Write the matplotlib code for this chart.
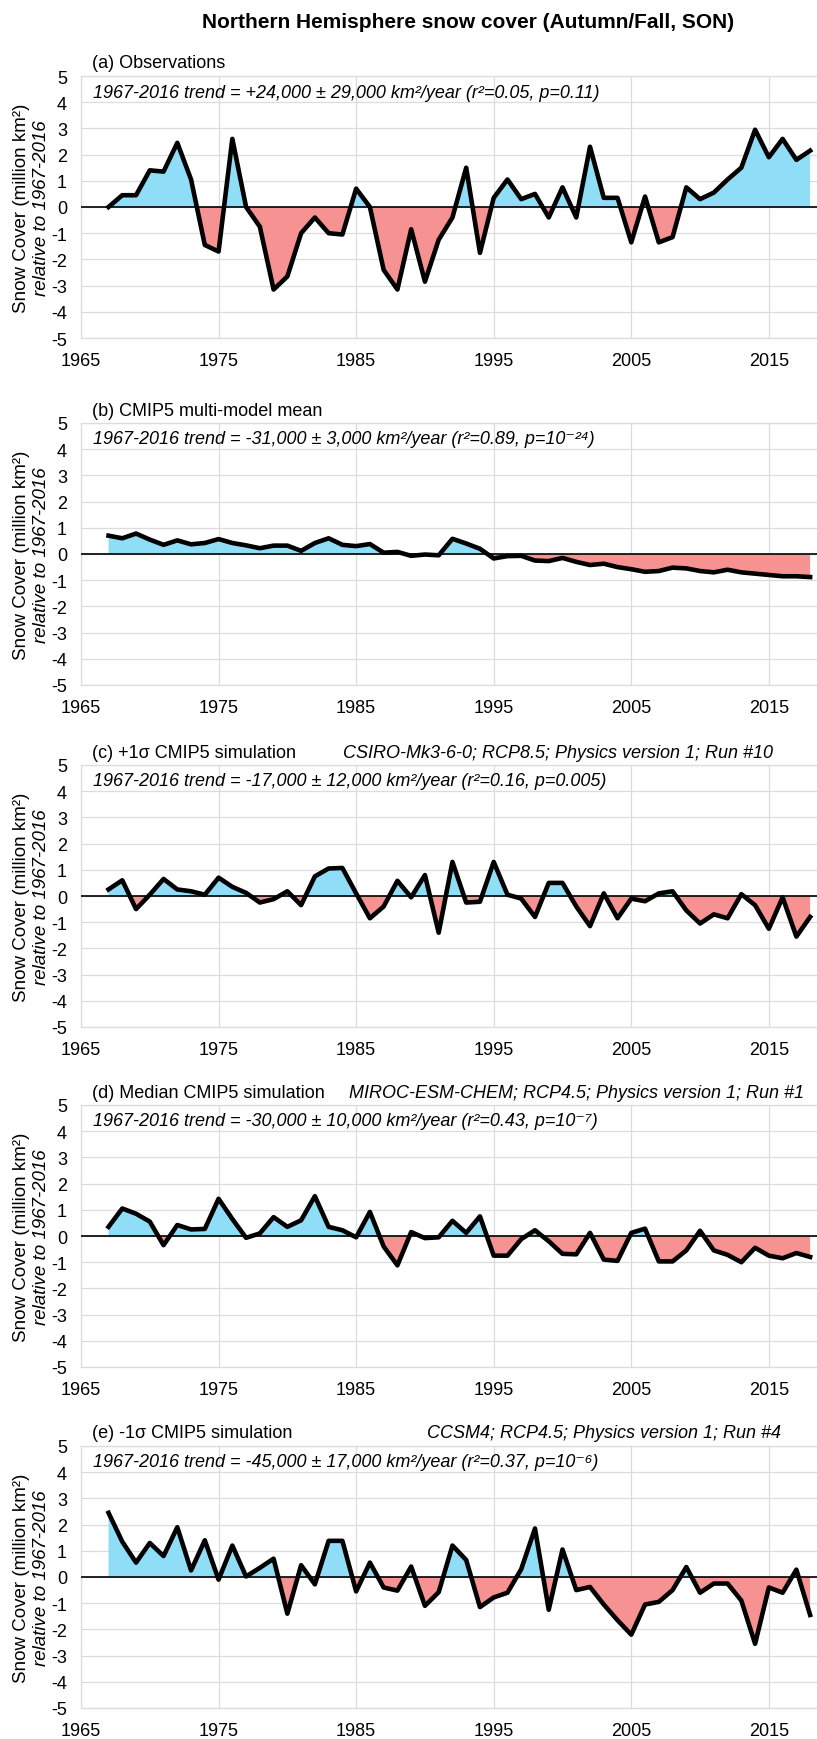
import numpy as np
import matplotlib
matplotlib.use("Agg")
import matplotlib.pyplot as plt

plt.rcParams['font.family'] = ['Liberation Sans', 'DejaVu Sans']
plt.rcParams['axes.unicode_minus'] = False

# DATA
years = np.arange(1967, 2019)

obs = [0.0, 0.45, 0.45, 1.4, 1.35, 2.45, 1.05, -1.45, -1.7, 2.6,
       0.0, -0.75, -3.15, -2.65, -1.0, -0.4, -1.0, -1.05, 0.7, 0.0,
       -2.4, -3.15, -0.85, -2.85, -1.25, -0.4, 1.5, -1.75, 0.35, 1.05,
       0.3, 0.5, -0.4, 0.75, -0.4, 2.3, 0.35, 0.35, -1.35, 0.4,
       -1.35, -1.15, 0.75, 0.3, 0.55, 1.05, 1.5, 2.95, 1.9, 2.6,
       1.8, 2.15]

mmm = [0.7, 0.6, 0.78, 0.55, 0.35, 0.52, 0.37, 0.42, 0.57, 0.42,
       0.33, 0.22, 0.32, 0.32, 0.12, 0.42, 0.6, 0.35, 0.3, 0.38,
       0.05, 0.08, -0.07, -0.02, -0.05, 0.58, 0.4, 0.2, -0.17, -0.08,
       -0.07, -0.25, -0.27, -0.15, -0.3, -0.42, -0.37, -0.5, -0.58, -0.68,
       -0.65, -0.52, -0.55, -0.65, -0.7, -0.6, -0.7, -0.75, -0.8, -0.85,
       -0.85, -0.88]

plus1 = [0.25, 0.6, -0.5, 0.05, 0.65, 0.25, 0.18, 0.05, 0.7, 0.35,
         0.12, -0.25, -0.12, 0.18, -0.35, 0.75, 1.05, 1.07, 0.1, -0.85,
         -0.4, 0.58, -0.05, 0.8, -1.4, 1.3, -0.25, -0.22, 1.3, 0.05,
         -0.1, -0.8, 0.5, 0.5, -0.4, -1.15, 0.1, -0.85, -0.1, -0.2,
         0.1, 0.18, -0.55, -1.05, -0.7, -0.85, 0.07, -0.35, -1.25, -0.05,
         -1.55, -0.8]

median = [0.35, 1.05, 0.85, 0.55, -0.35, 0.42, 0.25, 0.27, 1.42, 0.65,
          -0.07, 0.1, 0.72, 0.35, 0.6, 1.52, 0.35, 0.22, -0.05, 0.92,
          -0.4, -1.12, 0.15, -0.08, -0.05, 0.58, 0.12, 0.75, -0.75, -0.75,
          -0.12, 0.22, -0.2, -0.68, -0.7, 0.12, -0.9, -0.95, 0.12, 0.28,
          -0.97, -0.97, -0.55, 0.2, -0.55, -0.72, -1.0, -0.45, -0.75, -0.85,
          -0.65, -0.8]

minus1 = [2.45, 1.35, 0.55, 1.3, 0.8, 1.9, 0.25, 1.4, -0.1, 1.2,
          0.02, 0.35, 0.7, -1.4, 0.45, -0.28, 1.38, 1.38, -0.55, 0.55,
          -0.4, -0.52, 0.4, -1.1, -0.58, 1.2, 0.65, -1.15, -0.78, -0.6,
          0.3, 1.85, -1.25, 1.05, -0.5, -0.38, -1.05, -1.65, -2.2, -1.05,
          -0.95, -0.5, 0.38, -0.6, -0.25, -0.25, -0.9, -2.55, -0.4, -0.6,
          0.28, -1.45]

series = [obs, mmm, plus1, median, minus1]
titles = ["(a) Observations",
          "(b) CMIP5 multi-model mean",
          "(c) +1σ CMIP5 simulation",
          "(d) Median CMIP5 simulation",
          "(e) -1σ CMIP5 simulation"]
runs = [None, None,
        "CSIRO-Mk3-6-0; RCP8.5; Physics version 1; Run #10",
        "MIROC-ESM-CHEM; RCP4.5; Physics version 1; Run #1",
        "CCSM4; RCP4.5; Physics version 1; Run #4"]
trends = ["1967-2016 trend = +24,000 ± 29,000 km²/year (r²=0.05, p=0.11)",
          "1967-2016 trend = -31,000 ± 3,000 km²/year (r²=0.89, p=10⁻²⁴)",
          "1967-2016 trend = -17,000 ± 12,000 km²/year (r²=0.16, p=0.005)",
          "1967-2016 trend = -30,000 ± 10,000 km²/year (r²=0.43, p=10⁻⁷)",
          "1967-2016 trend = -45,000 ± 17,000 km²/year (r²=0.37, p=10⁻⁶)"]
xticks = [1965, 1975, 1985, 1995, 2005, 2015]
yticks = list(range(-5, 6))

W, H = 817, 1740
fig = plt.figure(figsize=(W / 100, H / 100), dpi=100)

tops = [77, 424, 766, 1106, 1447]
ah = 262
left = 81
run_x = [None, None, 343, 349, 427]

fig.text(468 / W, 1 - 23 / H, "Northern Hemisphere snow cover (Autumn/Fall, SON)",
         ha='center', va='center', fontsize=15, fontweight='bold')

for i, vals in enumerate(series):
    vals = np.array(vals)
    ax = fig.add_axes([left / W, 1 - (tops[i] + ah) / H, (W - left) / W, ah / H])
    ax.fill_between(years, vals, 0, where=vals >= 0, interpolate=True,
                    color='#8FDDF7', lw=0)
    ax.fill_between(years, vals, 0, where=vals <= 0, interpolate=True,
                    color='#F79292', lw=0)
    ax.axhline(0, color='black', lw=1.2, zorder=3)
    ax.plot(years, vals, color='black', lw=3.3, zorder=4)

    ax.set_xlim(1965, 2018.5)
    ax.set_ylim(-5, 5)
    ax.set_xticks(xticks)
    ax.set_yticks(yticks)
    ax.set_yticklabels([str(t) for t in yticks])
    ax.grid(True, color='#dcdcdc', lw=0.9)
    ax.set_axisbelow(True)
    ax.tick_params(length=0, labelsize=13)
    ax.tick_params(axis='x', pad=10)
    ax.tick_params(axis='y', pad=10)
    for s in ['left', 'bottom', 'top']:
        ax.spines[s].set_color('#dcdcdc')
        ax.spines[s].set_linewidth(0.9)
    ax.spines['right'].set_visible(False)

    ax.text(11 / 736, 1 + 13 / ah, titles[i], transform=ax.transAxes,
            ha='left', va='center', fontsize=13)
    if runs[i]:
        ax.text((run_x[i] - left) / 736, 1 + 13 / ah, runs[i], transform=ax.transAxes,
                ha='left', va='center', fontsize=13, style='italic')
    ax.text(12 / 736, 1 - 16 / ah, trends[i], transform=ax.transAxes,
            ha='left', va='center', fontsize=13, style='italic')

    yc = 1 - (tops[i] + ah / 2) / H
    fig.text(22 / W, yc, "Snow Cover (million km²)", rotation=90,
             ha='center', va='center', fontsize=13.5)
    fig.text(42 / W, yc, "relative to 1967-2016", rotation=90,
             ha='center', va='center', fontsize=13.5, style='italic')

fig.savefig("out.png", dpi=100)
